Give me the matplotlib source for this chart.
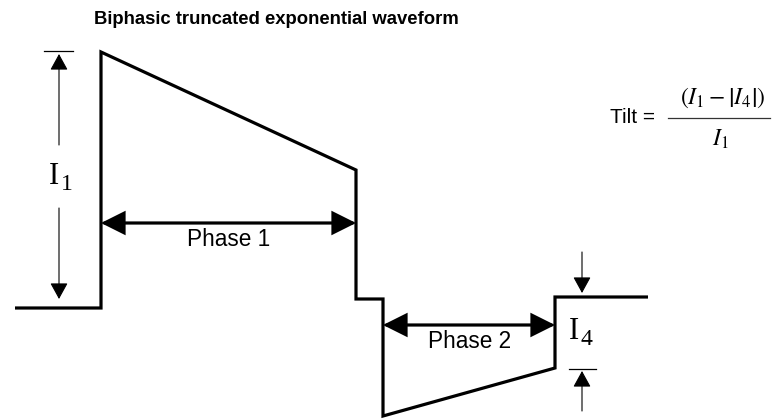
import matplotlib.pyplot as plt
from matplotlib.patches import FancyArrowPatch

plt.rcParams['mathtext.fontset'] = 'stix'
plt.rcParams['font.family'] = ['Liberation Sans', 'DejaVu Sans']

# waveform corners, in drawing units (x to the right, y downwards)
wave_x = [15, 101, 101, 356, 356, 383, 383, 555, 555, 648]
wave_y = [308, 308, 52, 170, 299, 299, 416, 368, 297, 297]

# phase arrows: (x start, x end, y), labels
phase_arrows = [(101, 356, 223), (383, 555, 325)]
phase_labels = ['Phase 1', 'Phase 2']

title = 'Biphasic truncated exponential waveform'

fig = plt.figure(figsize=(7.78, 4.19), dpi=100)
ax = fig.add_axes([0, 0, 1, 1])
ax.set_xlim(0, 778)
ax.set_ylim(419, 0)
ax.axis('off')

# the waveform
ax.plot(wave_x, wave_y, color='black', lw=2.3, solid_joinstyle='miter',
        solid_capstyle='butt')

# phase arrows
for (x0, x1, y), lab in zip(phase_arrows, phase_labels):
    ar = FancyArrowPatch((x0, y), (x1, y),
                         arrowstyle='<|-|>,head_length=14,head_width=7',
                         mutation_scale=1, lw=2.3, color='black',
                         shrinkA=0, shrinkB=0, joinstyle='miter')
    ax.add_patch(ar)
    ax.text((x0 + x1) / 2 + 0.5, y + 16, lab, fontsize=16.3,
            ha='center', va='center')


def dim_arrow(x, y_from, y_to):
    ar = FancyArrowPatch((x, y_from), (x, y_to),
                         arrowstyle='-|>,head_length=10,head_width=5.5',
                         mutation_scale=1, lw=0.8, color='black',
                         shrinkA=0, shrinkB=0)
    ax.add_patch(ar)


def big_i(x, y, sub):
    # serif capital I with a large, low subscript
    ax.text(x, y, 'I', fontsize=22, family='Liberation Serif',
            ha='left', va='baseline')
    ax.text(x + 11.5, y + 6, sub, fontsize=17, family='Liberation Serif',
            ha='left', va='baseline')


# I1 dimension
ax.plot([44, 73], [51, 51], color='black', lw=0.9)
dim_arrow(59, 145, 54)
dim_arrow(59, 208, 299)
big_i(49, 184, '1')

# I4 dimension
ax.plot([569, 596], [369, 369], color='black', lw=0.9)
dim_arrow(582, 252, 293)
dim_arrow(582, 411, 371)
big_i(569, 339, '4')

# tilt formula
ax.text(610, 117, 'Tilt =', fontsize=15, ha='left', va='center')
ax.text(723, 98, r'$(I_1 - \left|I_4\right|)$', fontsize=17,
        ha='center', va='center')
ax.plot([668, 770], [118, 118], color='#333333', lw=0.9)
ax.text(720, 139, r'$I_1$', fontsize=17, ha='center', va='center')

ax.text(276, 19, title, fontsize=13.3, fontweight='bold',
        ha='center', va='center')

fig.savefig('out.png', dpi=100)
